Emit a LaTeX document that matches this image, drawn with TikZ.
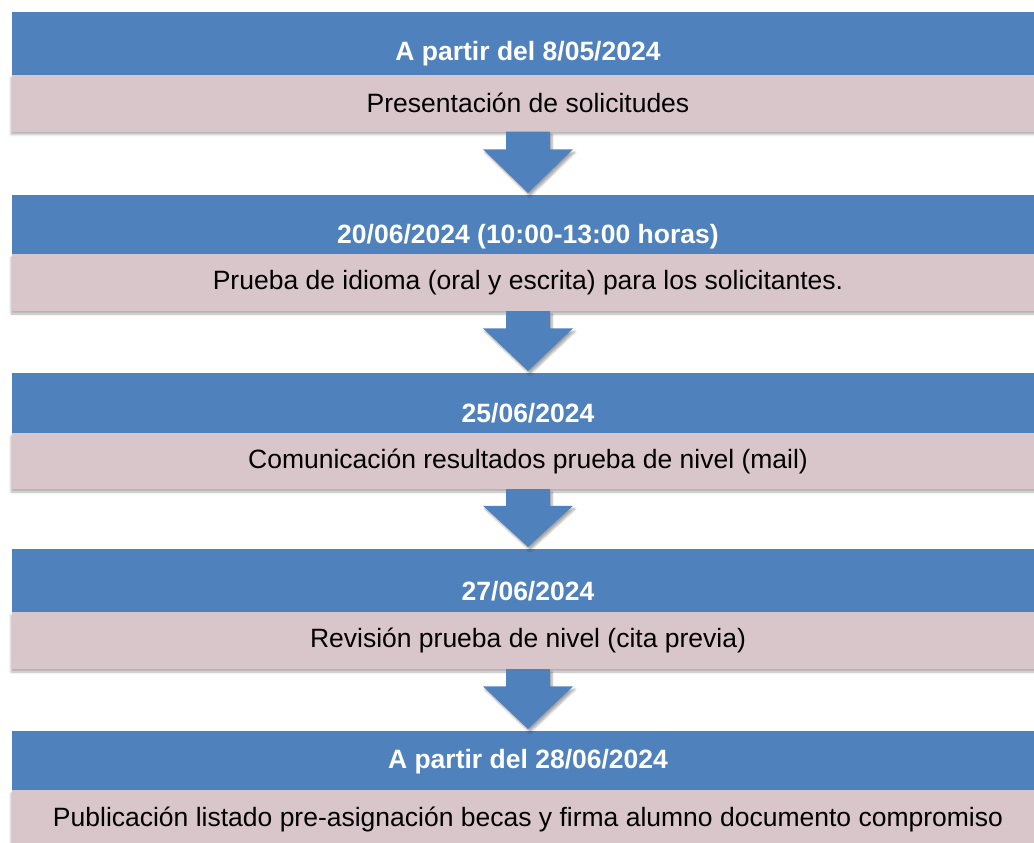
\documentclass[tikz,border=0pt]{standalone}
\usepackage{fontspec}
\setmainfont{Liberation Sans}
\usetikzlibrary{calc,shadows.blur}
\definecolor{hdrblue}{RGB}{79,129,189}
\definecolor{bodypink}{RGB}{217,198,203}
\tikzset{
  hdr/.style={fill=hdrblue, draw=none, minimum width=1032pt, inner sep=0pt, outer sep=0pt},
  body/.style={fill=bodypink, draw=none, minimum width=1032pt, inner sep=0pt, outer sep=0pt,
    font=\fontsize{26.5}{31}\selectfont,
    blur shadow={shadow xshift=-1pt, shadow yshift=-3pt, shadow blur steps=4, shadow opacity=30}},
  hdrtext/.style={text=white, inner sep=0pt, font=\fontsize{26.5}{31}\selectfont\bfseries},
  flowarrow/.style={fill=hdrblue, draw=none,
    blur shadow={shadow xshift=2pt, shadow yshift=-3pt, shadow blur steps=6, shadow opacity=35}}
}
\newcommand{\blockarrow}[2]{%
  \path[flowarrow] let \p1=(#1.south), \p2=(#2.north) in
    (\x1-22pt,\y1) -- (\x1+22pt,\y1) -- (\x1+22pt,{\y1+0.28*(\y2-\y1)}) --
    (\x1+45pt,{\y1+0.28*(\y2-\y1)}) -- (\x1,\y2+2pt) -- (\x1-45pt,{\y1+0.28*(\y2-\y1)}) --
    (\x1-22pt,{\y1+0.28*(\y2-\y1)}) -- cycle;}
\begin{document}
\begin{tikzpicture}[x=1pt,y=-1pt]
\useasboundingbox (0,0) rectangle (1034,843);
% box 1
\node[body, minimum height=57pt] (p1) at (528,103) {Presentación de solicitudes};
\node[hdr, minimum height=63pt] (b1) at (528,43.5) {};
\node[hdrtext] (t1) at (528,54) {A partir del 8/05/2024};
% box 2
\node[body, minimum height=57pt] (p2) at (528,282.5) {Prueba de idioma (oral y escrita) para los solicitantes.};
\node[hdr, minimum height=59pt] (b2) at (528,224.5) {};
\node[hdrtext] (t2) at (528,237) {20/06/2024 (10:00-13:00 horas)};
% box 3
\node[body, minimum height=56pt] (p3) at (528,461) {Comunicación resultados prueba de nivel (mail)};
\node[hdr, minimum height=60pt] (b3) at (528,403) {};
\node[hdrtext] (t3) at (528,413) {25/06/2024};
% box 4
\node[body, minimum height=57pt] (p4) at (528,640.5) {Revisión prueba de nivel (cita previa)};
\node[hdr, minimum height=63pt] (b4) at (528,580.5) {};
\node[hdrtext] (t4) at (528,591) {27/06/2024};
% box 5
\node[body, minimum height=58pt] (p5) at (528,819) {Publicación listado pre-asignación becas y firma alumno documento compromiso};
\node[hdr, minimum height=59pt] (b5) at (528,760.5) {};
\node[hdrtext] (t5) at (528,762) {A partir del 28/06/2024};
% arrows
\blockarrow{p1}{b2}
\blockarrow{p2}{b3}
\blockarrow{p3}{b4}
\blockarrow{p4}{b5}
\end{tikzpicture}
\end{document}
